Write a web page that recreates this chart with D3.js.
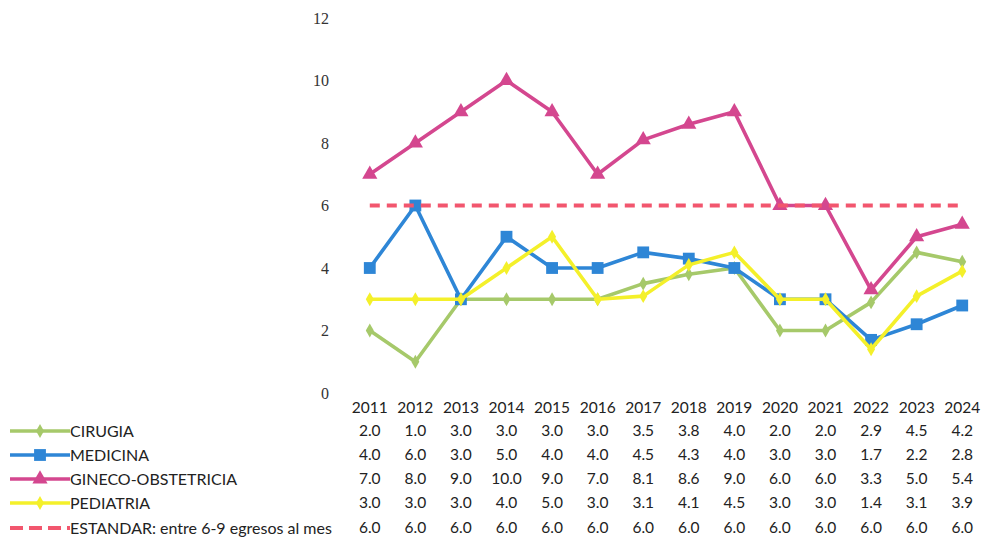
<!DOCTYPE html>
<html><head><meta charset="utf-8">
<script src="https://cdn.jsdelivr.net/npm/d3@7"></script>
<style>body{margin:0;background:#fff}svg{display:block}</style>
</head><body>
<svg id="c" width="984" height="537"></svg>
<script>
const years = ["2011","2012","2013","2014","2015","2016","2017","2018","2019","2020","2021","2022","2023","2024"];
const cirugia = [2.0,1.0,3.0,3.0,3.0,3.0,3.5,3.8,4.0,2.0,2.0,2.9,4.5,4.2];
const medicina = [4.0,6.0,3.0,5.0,4.0,4.0,4.5,4.3,4.0,3.0,3.0,1.7,2.2,2.8];
const gineco = [7.0,8.0,9.0,10.0,9.0,7.0,8.1,8.6,9.0,6.0,6.0,3.3,5.0,5.4];
const pediatria = [3.0,3.0,3.0,4.0,5.0,3.0,3.1,4.1,4.5,3.0,3.0,1.4,3.1,3.9];
const estandar = [6.0,6.0,6.0,6.0,6.0,6.0,6.0,6.0,6.0,6.0,6.0,6.0,6.0,6.0];
const yTicks = [0,2,4,6,8,10,12];

const series = [
  {name:"CIRUGIA", values:cirugia, color:"#a6c96a", marker:"diamond"},
  {name:"MEDICINA", values:medicina, color:"#2e86d6", marker:"square"},
  {name:"GINECO-OBSTETRICIA", values:gineco, color:"#d4478f", marker:"triangle"},
  {name:"PEDIATRIA", values:pediatria, color:"#f4f02a", marker:"diamond"},
  {name:"ESTANDAR: entre 6-9 egresos al mes", values:estandar, color:"#f2566e", marker:"none", dash:"10,7"}
];

const svg = d3.select("#c");
const x = d3.scaleBand().domain(years).range([347, 985]);
const y = d3.scaleLinear().domain([0,12]).range([393, 18]);
const cx = d => x(d) + x.bandwidth()/2;

// y axis labels
const yAxis = d3.axisLeft(y).tickValues(yTicks).tickSize(0).tickPadding(0).tickFormat(d3.format("d"));
const ga = svg.append("g").attr("transform","translate(329,0)").call(yAxis);
ga.select(".domain").remove();
ga.selectAll("text").attr("font-family","Liberation Serif, serif").attr("font-size",16).attr("fill","#333");

const line = d3.line().x((d,i)=>cx(years[i])).y(d=>y(d));
const sym = {
  diamond: d3.symbol().type(d3.symbolDiamond).size(55),
  square: d3.symbol().type(d3.symbolSquare).size(140),
  triangle: d3.symbol().type(d3.symbolTriangle).size(100)
};

series.forEach(s=>{
  svg.append("path").datum(s.values).attr("d",line)
    .attr("fill","none").attr("stroke",s.color)
    .attr("stroke-width", s.dash?4:3.6)
    .attr("stroke-dasharray", s.dash||null)
    .attr("stroke-linejoin","round");
  if (s.marker!=="none") {
    svg.append("g").selectAll("path").data(s.values).join("path")
      .attr("d", sym[s.marker]())
      .attr("transform",(d,i)=>`translate(${cx(years[i])},${y(d)})`)
      .attr("fill",s.color);
  }
});

// data table
const xb = d3.axisTop(x).tickSize(0).tickPadding(0);
const gx = svg.append("g").attr("transform","translate(0,413)").call(xb);
gx.select(".domain").remove();
gx.selectAll("text").attr("font-family","Lato, sans-serif").attr("font-size",15.5).attr("fill","#222");

const rowY = [431, 455, 479, 503, 528];
series.forEach((s,r)=>{
  const g = svg.append("g");
  const yy = rowY[r];
  g.append("line").attr("x1",10).attr("x2",70).attr("y1",yy).attr("y2",yy)
    .attr("stroke",s.color).attr("stroke-width",s.dash?4:3.6)
    .attr("stroke-dasharray",s.dash?"13,6":null);
  if (s.marker!=="none") {
    g.append("path").attr("d",sym[s.marker]()).attr("transform",`translate(40,${yy})`).attr("fill",s.color);
  }
  g.append("text").attr("x",70).attr("y",yy).attr("dy","0.35em")
    .attr("font-family","Lato, sans-serif").attr("font-size",16).attr("fill","#222").text(s.name);
  g.selectAll("text.v").data(s.values).join("text").attr("class","v")
    .attr("x",(d,i)=>cx(years[i])).attr("y",yy).attr("dy","0.35em").attr("text-anchor","middle")
    .attr("font-family","Lato, sans-serif").attr("font-size",15.5).attr("fill","#222")
    .text(d=>d.toFixed(1));
});
</script>
</body></html>
